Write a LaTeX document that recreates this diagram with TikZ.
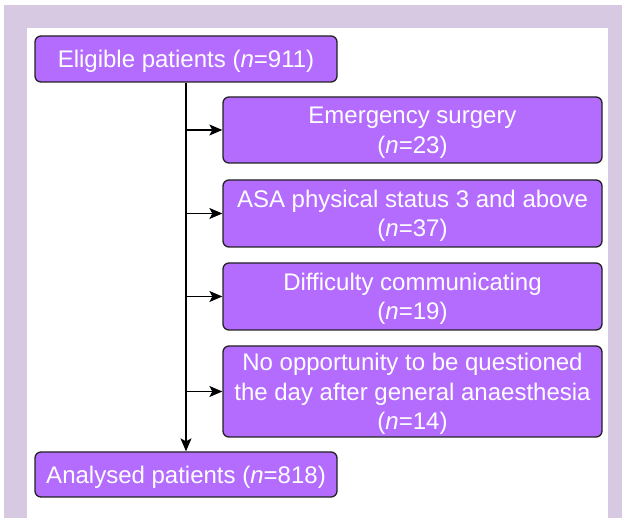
\documentclass[tikz,border=0pt]{standalone}
\usepackage{fontspec}
\setmainfont{Liberation Sans}
\usetikzlibrary{arrows.meta}
\definecolor{lav}{HTML}{D8C9E2}
\definecolor{boxfill}{HTML}{B46CFF}
\definecolor{boxline}{HTML}{222222}
\tikzset{
  flowbox/.style={draw=boxline, line width=1.3pt, fill=boxfill, rounded corners=6pt,
    text=white, align=center, inner sep=0pt, text depth=0pt,
    font=\fontsize{24}{29.5}\selectfont},
  conn/.style={line width=1.2pt, arrows={-Stealth[length=13pt,width=11pt,inset=3pt]}}
}
\begin{document}
\begin{tikzpicture}[x=1pt,y=1pt]
\useasboundingbox (0,0) rectangle (622,-518);
\fill[white] (0,0) rectangle (622,-518);
\fill[lav] (4,-5) rectangle (622,-518);
\fill[white] (27,-28) rectangle (608,-518);
\node[flowbox, minimum width=302pt, minimum height=46pt] (elig) at (186,-59) {Eligible patients (\textit{n}=911)};
\node[flowbox, minimum width=379pt, minimum height=66pt] (emer) at (412.5,-130) {Emergency surgery\\(\textit{n}=23)};
\node[flowbox, minimum width=379pt, minimum height=67pt] (asa) at (412.5,-213.5) {ASA physical status 3 and above\\(\textit{n}=37)};
\node[flowbox, minimum width=379pt, minimum height=67pt] (diff) at (412.5,-296.5) {Difficulty communicating\\(\textit{n}=19)};
\node[flowbox, minimum width=379pt, minimum height=91pt] (noop) at (412.5,-391.5) {No opportunity to be questioned\\the day after general anaesthesia\\(\textit{n}=14)};
\node[flowbox, minimum width=302pt, minimum height=45pt] (anal) at (186,-474.5) {Analysed patients (\textit{n}=818)};
\draw[conn] (elig.south) -- (anal.north);
\draw[conn] (elig.south |- emer.west) -- (emer.west);
\draw[conn] (elig.south |- asa.west) -- (asa.west);
\draw[conn] (elig.south |- diff.west) -- (diff.west);
\draw[conn] (elig.south |- noop.west) -- (noop.west);
\end{tikzpicture}
\end{document}
